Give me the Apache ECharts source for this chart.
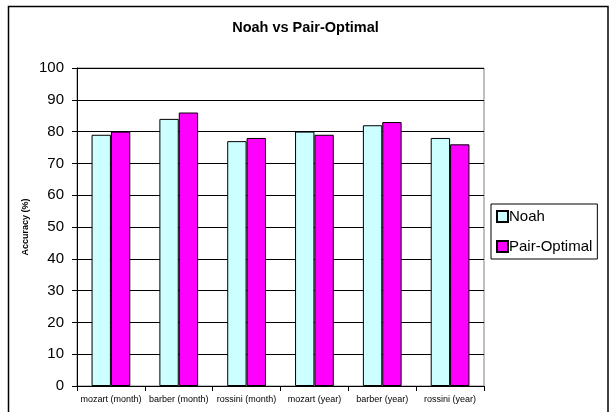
<!DOCTYPE html>
<html>
<head>
<meta charset="utf-8">
<script src="https://cdn.jsdelivr.net/npm/echarts@6/dist/echarts.min.js"></script>
<style>
html,body{margin:0;padding:0;background:#fff;}
#chart{width:611px;height:412px;}
</style>
</head>
<body>
<div id="chart"></div>
<script>
const categories = ['mozart (month)', 'barber (month)', 'rossini (month)', 'mozart (year)', 'barber (year)', 'rossini (year)'];
const noah = [79, 84, 77, 80, 82, 78];
const pairOptimal = [80, 86, 78, 79, 83, 76];
const yTicks = [0, 10, 20, 30, 40, 50, 60, 70, 80, 90, 100];

const chart = echarts.init(document.getElementById('chart'), null, {renderer: 'canvas'});
const font = 'Arial, "Liberation Sans", sans-serif';
chart.setOption({
  animation: false,
  backgroundColor: '#fff',
  title: {
    text: 'Noah vs Pair-Optimal',
    left: 'center', top: 15, padding: [5, 0, 5, 8],
    textStyle: {fontFamily: font, fontSize: 14.5, fontWeight: 'bold', color: '#000'}
  },
  graphic: [{
    type: 'rect', silent: true, z: 100,
    shape: {x: 8.5, y: 6.5, width: 599.5, height: 420},
    style: {fill: null, stroke: '#000', lineWidth: 1.5}
  }],
  legend: {
    orient: 'vertical', left: 491, top: 204,
    padding: 5, itemGap: 15, itemWidth: 11, itemHeight: 11,
    borderColor: '#000', borderWidth: 1,
    icon: 'rect',
    textStyle: {fontFamily: font, fontSize: 15, color: '#000', lineHeight: 15, padding: [0,0,0,-4]},
    data: ['Noah', 'Pair-Optimal']
  },
  grid: {left: 77, right: 127, top: 68, bottom: 26, show: true, borderColor: '#808080', borderWidth: 1, containLabel: false},
  xAxis: {
    type: 'category', data: categories,
    axisLine: {lineStyle: {color: '#000', width: 1}},
    axisTick: {show: true, length: 5, lineStyle: {color: '#000'}},
    axisLabel: {fontFamily: font, fontSize: 9, color: '#000', margin: 9, interval: 0}
  },
  yAxis: {
    type: 'value', min: yTicks[0], max: yTicks[yTicks.length - 1], interval: 10,
    name: 'Accuracy (%)', nameLocation: 'middle', nameGap: 47, nameMoveOverlap: false,
    nameTextStyle: {fontFamily: font, fontSize: 9, fontWeight: 'bold', color: '#000'},
    axisLine: {show: true, lineStyle: {color: '#000', width: 1}},
    axisTick: {show: true, length: 5, lineStyle: {color: '#000'}},
    axisLabel: {fontFamily: font, fontSize: 15, color: '#000', margin: 13},
    splitLine: {show: true, lineStyle: {color: '#000', width: 1}}
  },
  series: [
    {name: 'Noah', type: 'bar', data: noah, barGap: '0%', barCategoryGap: '42.9%',
     itemStyle: {color: '#CCFFFF', borderColor: '#000', borderWidth: 1}},
    {name: 'Pair-Optimal', type: 'bar', data: pairOptimal, barGap: '0%', barCategoryGap: '42.9%',
     itemStyle: {color: '#FF00FF', borderColor: '#000', borderWidth: 1}}
  ]
});
</script>
</body>
</html>
